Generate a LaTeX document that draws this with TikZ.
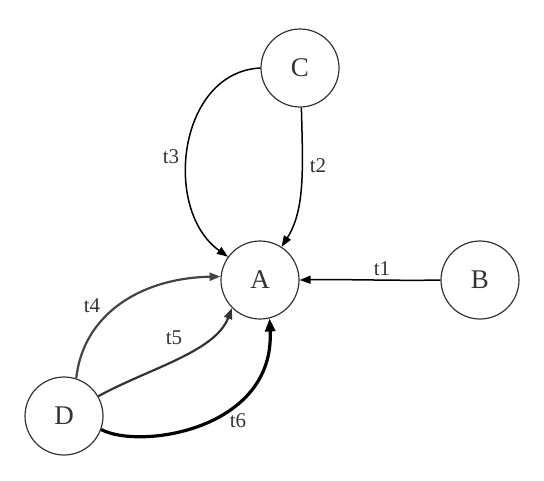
\documentclass[tikz,border=0pt]{standalone}
\usepackage{fontspec}
\setmainfont{Liberation Serif}
\usepackage{tikz}
\usetikzlibrary{arrows.meta}

\definecolor{ink}{HTML}{333333}
\definecolor{greyedge}{HTML}{444444}

\begin{document}
\begin{tikzpicture}[x=1pt,y=-1pt,
  state/.style={circle,draw=ink,line width=1.2pt,minimum size=78pt,inner sep=0pt,
    text=ink,font=\fontsize{27}{30}\selectfont},
  lbl/.style={text=ink,font=\fontsize{21}{24}\selectfont,inner sep=0pt},
  tip/.style={-{Triangle[length=11pt,width=8pt]}},
  bigtip/.style={-{Triangle[length=13pt,width=10pt]}}]
\useasboundingbox (0,0) rectangle (544,480);
\node[state] (C) at (300,68) {C};
\node[state] (A) at (260,280) {A};
\node[state] (B) at (480,280) {B};
\node[state] (D) at (64,416) {D};
\draw[tip,line width=1.5pt] (B.west) .. controls (400,281) and (340,279) .. (A.east) node[lbl,pos=0.42,above=4pt]{t1};
\draw[tip,line width=1.5pt] (C.272) .. controls (303,170) and (305,210) .. (A.57);
\node[lbl] (l2) at (318,166) {t2};
\draw[tip,line width=1.5pt] (C.west) .. controls (178,72) and (162,210) .. (A.144);
\node[lbl] (l3) at (171,157) {t3};
\draw[tip,line width=2.2pt,greyedge] (D.72) .. controls (83,315) and (140,278) .. (A.175);
\node[lbl] (l4) at (92,306) {t4};
\draw[tip,line width=2.2pt,ink] (D.30) .. controls (150,368) and (215,352) .. (A.225);
\node[lbl] (l5) at (174,338) {t5};
\draw[bigtip,line width=3.2pt] (D.-20) .. controls (140,450) and (275,430) .. (A.284);
\node[lbl] (l6) at (238,421) {t6};
\end{tikzpicture}
\end{document}
